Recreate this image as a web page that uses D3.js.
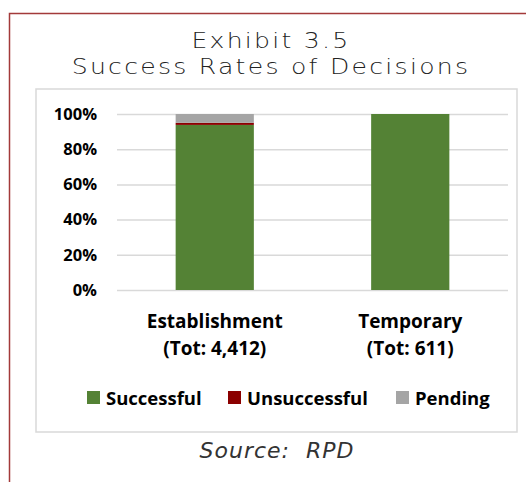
<!DOCTYPE html>
<html>
<head>
<meta charset="utf-8">
<script src="https://cdn.jsdelivr.net/npm/d3@7"></script>
<style>
  body { margin: 0; background: #fff; }
  svg { display: block; }
</style>
</head>
<body>
<div id="chart"></div>
<script>
const categories = ["Establishment", "Temporary"];
const totals = ["(Tot: 4,412)", "(Tot: 611)"];
const successful = [93.8, 100];
const unsuccessful = [1.2, 0];
const pending = [5.0, 0];
const seriesNames = ["Successful", "Unsuccessful", "Pending"];
const seriesColors = ["#548235", "#8b0000", "#a5a5a5"];
const yTicks = [0, 20, 40, 60, 80, 100];
const titleLines = ["Exhibit 3.5", "Success Rates of Decisions"];

const width = 526, height = 482;

const svg = d3.select("#chart").append("svg")
    .attr("width", width)
    .attr("height", height);

// outer frame
svg.append("path")
    .attr("d", `M9.5,${height} V13.5 H${width}`)
    .attr("fill", "none")
    .attr("stroke", "#a33a3a")
    .attr("stroke-width", 1.5);

// title, widened a little to mimic the wide geometric face
const titleFont = "'DejaVu Sans', sans-serif";
svg.append("g")
    .attr("transform", "translate(271,0) scale(1.14,1)")
    .append("text")
    .attr("text-anchor", "middle")
    .attr("font-family", titleFont)
    .attr("font-weight", 200)
    .attr("font-size", 22)
    .attr("letter-spacing", 2)
    .attr("fill", "#222")
    .selectAll("tspan")
    .data(titleLines)
    .join("tspan")
    .attr("x", 0)
    .attr("y", (d, i) => 48 + i * 26)
    .text(d => d);

// chart area box
svg.append("rect")
    .attr("x", 36).attr("y", 89)
    .attr("width", 481).attr("height", 343)
    .attr("fill", "#fff")
    .attr("stroke", "#d9d9d9")
    .attr("stroke-width", 1.5);

const x = d3.scaleBand()
    .domain(categories)
    .range([117, 508])
    .paddingInner(0.6)
    .paddingOuter(0.3);

const y = d3.scaleLinear()
    .domain([0, 100])
    .range([290, 114]);

const labelFont = "'Open Sans', 'Liberation Sans', sans-serif";

// gridlines + y labels
const yAxis = svg.append("g")
    .attr("transform", "translate(117,0)")
    .call(d3.axisLeft(y).tickValues(yTicks).tickSize(-391).tickFormat(d => d + "%"));
yAxis.select(".domain").remove();
yAxis.selectAll(".tick line").attr("stroke", "#d9d9d9").attr("stroke-width", 1.5);
yAxis.selectAll(".tick text")
    .attr("x", -20)
    .attr("font-family", labelFont)
    .attr("font-weight", 700)
    .attr("font-size", 16.5)
    .attr("fill", "#000");

// stacked bars
const rows = categories.map((c, i) => ({
    cat: c, Successful: successful[i], Unsuccessful: unsuccessful[i], Pending: pending[i]
}));
const stacked = d3.stack().keys(seriesNames)(rows);

svg.append("g").selectAll("g")
    .data(stacked)
    .join("g")
    .attr("fill", (d, i) => seriesColors[i])
    .selectAll("rect")
    .data(d => d)
    .join("rect")
    .attr("x", d => x(d.data.cat))
    .attr("y", d => y(d[1]))
    .attr("width", x.bandwidth())
    .attr("height", d => y(d[0]) - y(d[1]));

// category labels
categories.forEach((c, i) => {
    const cx = x(c) + x.bandwidth() / 2;
    const t = svg.append("text")
        .attr("text-anchor", "middle")
        .attr("font-family", labelFont)
        .attr("font-weight", 700)
        .attr("font-size", 19)
        .attr("fill", "#000");
    t.append("tspan").attr("x", cx).attr("y", 328).text(c);
    t.append("tspan").attr("x", cx).attr("y", 355).text(totals[i]);
});

// legend
const legendX = [87, 228, 396];
const legend = svg.append("g").selectAll("g")
    .data(seriesNames)
    .join("g")
    .attr("transform", (d, i) => `translate(${legendX[i]},391)`);
legend.append("rect")
    .attr("width", 13).attr("height", 13)
    .attr("fill", (d, i) => seriesColors[i]);
legend.append("text")
    .attr("x", 19).attr("y", 13.5)
    .attr("font-family", labelFont)
    .attr("font-weight", 700)
    .attr("font-size", 18.5)
    .attr("fill", "#000")
    .text(d => d);

// source
svg.append("text")
    .attr("x", 277).attr("y", 458)
    .attr("text-anchor", "middle")
    .attr("font-family", titleFont)
    .attr("font-weight", 200)
    .attr("font-style", "italic")
    .attr("font-size", 22)
    .attr("letter-spacing", 1)
    .attr("fill", "#333")
    .attr("xml:space", "preserve")
    .text("Source:  RPD");
</script>
</body>
</html>
